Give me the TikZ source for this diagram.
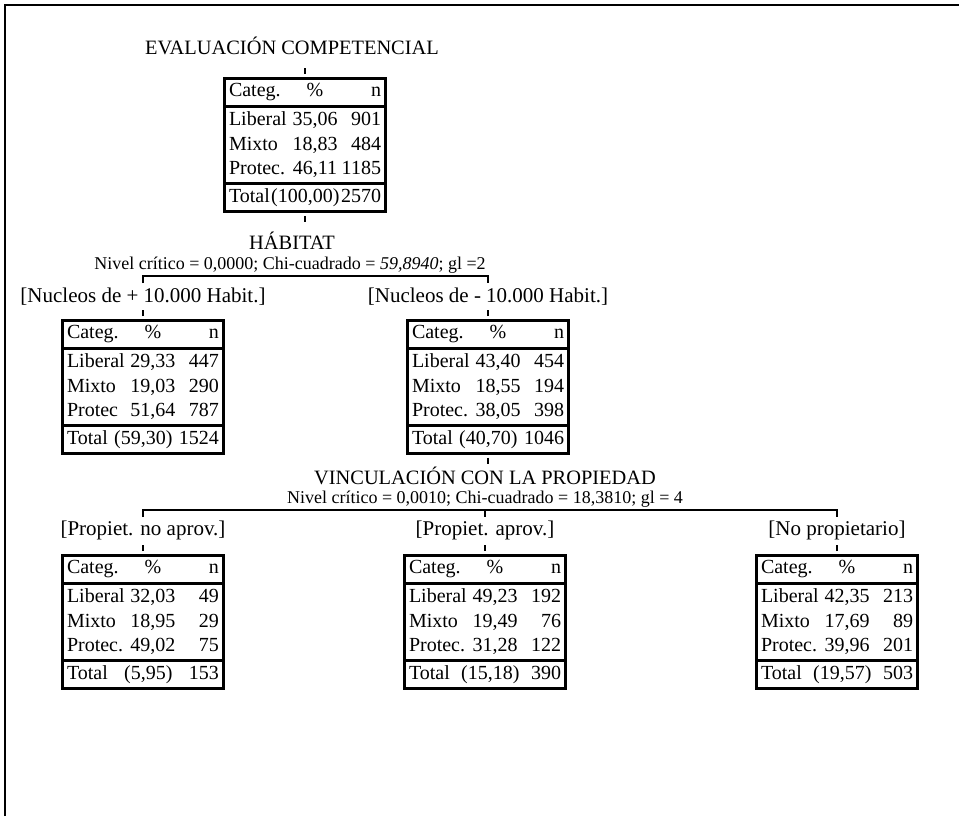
\documentclass[tikz,border=0pt]{standalone}
\usepackage{fontspec}
\setmainfont{Liberation Serif}
\newcommand{\fila}[3]{\makebox[30pt][l]{#1}\makebox[26pt][c]{#2}\makebox[20pt][r]{#3}}

\tikzset{
    titulo/.style={font=\fontsize{10.2}{12}\selectfont, inner sep=0pt},
    estad/.style={font=\fontsize{9}{11}\selectfont, inner sep=0pt},
    rotulo/.style={font=\fontsize{10.5}{12}\selectfont, inner sep=0pt},
    celda/.style={draw, rectangle, line width=0.8pt, minimum width=80pt, inner xsep=2pt, inner ysep=1pt, anchor=90, align=left, font=\fontsize{10}{12.3}\selectfont},
    marco/.style={line width=1.5pt},
    marca/.style={line width=0.6pt},
    llave/.style={line width=0.6pt}
}

\begin{document}
\begin{tikzpicture}[x=0.5pt, y=-0.5pt]
    \useasboundingbox (0,0) rectangle (959,816);
    \draw[line width=1pt] (5,816) -- (5,5) -- (959,5);

    % raiz
    \draw
    (292,46)node[titulo](tit1){EVALUACIÓN COMPETENCIAL}
    (305,78)node[celda, minimum height=13.5pt](h1){\fila{Categ.}{\%}{n}}
    (h1.270)node[celda, minimum height=37.5pt](c1){\fila{Liberal}{35,06}{901}\\\fila{Mixto}{18,83}{484}\\\fila{Protec.}{46,11}{1185}}
    (c1.270)node[celda, minimum height=13.5pt](t1){\makebox[76pt]{Total\hfill(100,00)\hfill2570}}
    (292,241)node[titulo](hab){HÁBITAT}
    (290,265)node[estad](est1){Nivel crítico = 0,0000; Chi-cuadrado = \textit{59,8940}; gl =2}
    (143,297)node[rotulo](lab1){[Nucleos de + 10.000 Habit.]}
    (488,297)node[rotulo](lab2){[Nucleos de - 10.000 Habit.]}
    ;
    \draw[marco] (h1.north west) rectangle (t1.south east);
    \draw[marca] ([yshift=2pt]h1.north) -- ++(0,3pt);
    \draw[marca] ([yshift=-2pt]t1.south) -- ++(0,-3pt);
    \draw[llave] (143,283) |- (488,276) -- (488,283);

    % habitat
    \draw
    (143,320)node[celda, minimum height=13.5pt](h2){\fila{Categ.}{\%}{n}}
    (h2.270)node[celda, minimum height=37.5pt](c2){\fila{Liberal}{29,33}{447}\\\fila{Mixto}{19,03}{290}\\\fila{Protec}{51,64}{787}}
    (c2.270)node[celda, minimum height=13.5pt](t2){\makebox[76pt]{Total\hfill(59,30)\hfill1524}}
    (488,320)node[celda, minimum height=13.5pt](h3){\fila{Categ.}{\%}{n}}
    (h3.270)node[celda, minimum height=37.5pt](c3){\fila{Liberal}{43,40}{454}\\\fila{Mixto}{18,55}{194}\\\fila{Protec.}{38,05}{398}}
    (c3.270)node[celda, minimum height=13.5pt](t3){\makebox[76pt]{Total\hfill(40,70)\hfill1046}}
    (485,476)node[titulo](vinc){VINCULACIÓN CON LA PROPIEDAD}
    (485,499)node[estad](est2){Nivel crítico = 0,0010; Chi-cuadrado = 18,3810; gl = 4}
    (143,530)node[rotulo](lab3){[Propiet. no aprov.]}
    (485,530)node[rotulo](lab4){[Propiet. aprov.]}
    (837,530)node[rotulo](lab5){[No propietario]}
    ;
    \draw[marco] (h2.north west) rectangle (t2.south east);
    \draw[marco] (h3.north west) rectangle (t3.south east);
    \draw[marca] ([yshift=2pt]h2.north) -- ++(0,3pt);
    \draw[marca] ([yshift=2pt]h3.north) -- ++(0,3pt);
    \draw[marca] ([yshift=-2pt]t3.south) -- ++(0,-3pt);
    \draw[llave] (143,517) |- (837,510) -- (837,517);
    \draw[llave] (485,510) -- (485,517);

    % propiedad
    \draw
    (143,555)node[celda, minimum height=13.5pt](h4){\fila{Categ.}{\%}{n}}
    (h4.270)node[celda, minimum height=37.5pt](c4){\fila{Liberal}{32,03}{49}\\\fila{Mixto}{18,95}{29}\\\fila{Protec.}{49,02}{75}}
    (c4.270)node[celda, minimum height=13.5pt](t4){\makebox[76pt]{Total\hfill(5,95)\hfill153}}
    (485,555)node[celda, minimum height=13.5pt](h5){\fila{Categ.}{\%}{n}}
    (h5.270)node[celda, minimum height=37.5pt](c5){\fila{Liberal}{49,23}{192}\\\fila{Mixto}{19,49}{76}\\\fila{Protec.}{31,28}{122}}
    (c5.270)node[celda, minimum height=13.5pt](t5){\makebox[76pt]{Total\hfill(15,18)\hfill390}}
    (837,555)node[celda, minimum height=13.5pt](h6){\fila{Categ.}{\%}{n}}
    (h6.270)node[celda, minimum height=37.5pt](c6){\fila{Liberal}{42,35}{213}\\\fila{Mixto}{17,69}{89}\\\fila{Protec.}{39,96}{201}}
    (c6.270)node[celda, minimum height=13.5pt](t6){\makebox[76pt]{Total\hfill(19,57)\hfill503}}
    ;
    \draw[marco] (h4.north west) rectangle (t4.south east);
    \draw[marco] (h5.north west) rectangle (t5.south east);
    \draw[marco] (h6.north west) rectangle (t6.south east);
    \draw[marca] ([yshift=2pt]h4.north) -- ++(0,3pt);
    \draw[marca] ([yshift=2pt]h5.north) -- ++(0,3pt);
    \draw[marca] ([yshift=2pt]h6.north) -- ++(0,3pt);
\end{tikzpicture}
\end{document}
